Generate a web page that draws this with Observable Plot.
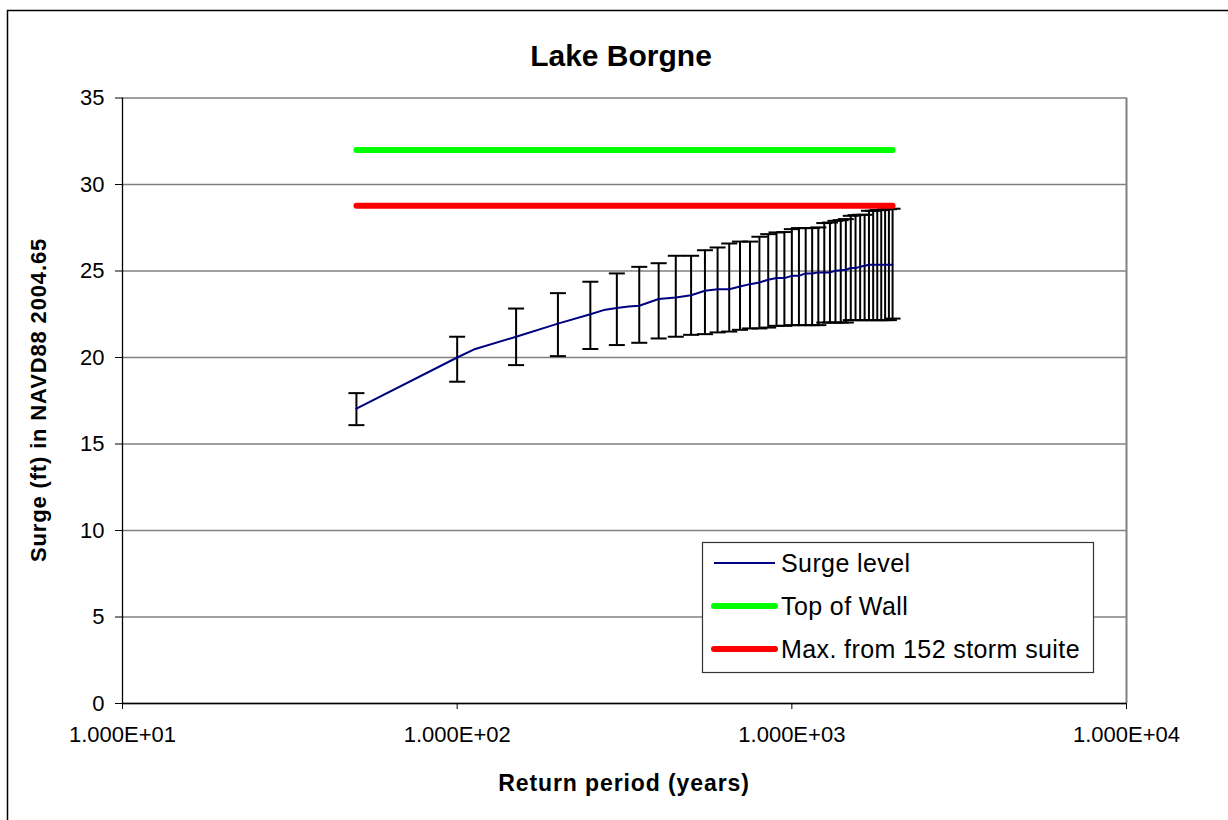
<!DOCTYPE html>
<html><head><meta charset="utf-8">
<script src="https://cdn.jsdelivr.net/npm/d3@7"></script>
<script src="https://cdn.jsdelivr.net/npm/@observablehq/plot@0.6"></script>
<style>body{margin:0;background:#fff} svg{display:block}</style>
</head><body><div id="chart"></div>
<script>
const title = "Lake Borgne";
const xLabel = "Return period (years)";
const yLabel = "Surge (ft) in NAVD88 2004.65";
const xTicks = [10, 100, 1000, 10000];
const xTickLabels = ["1.000E+01", "1.000E+02", "1.000E+03", "1.000E+04"];
const yTicks = [0, 5, 10, 15, 20, 25, 30, 35];

// Surge level line (return period, surge ft)
const lineYears = [50, 100, 112, 150, 200, 250, 274, 300, 325, 350, 400, 450, 500, 550, 600, 650, 700, 750, 800, 850, 900, 950, 1000, 1050, 1100, 1150, 1200, 1250, 1300, 1350, 1400, 1450, 1500, 1550, 1600, 1650, 1700, 1750, 1800, 1850, 1900, 1950, 2000];
const lineSurge = [17.05, 20.0, 20.46, 21.2, 21.96, 22.5, 22.74, 22.86, 22.95, 22.99, 23.38, 23.47, 23.6, 23.86, 23.95, 23.95, 24.1, 24.24, 24.34, 24.49, 24.59, 24.59, 24.72, 24.72, 24.86, 24.86, 24.92, 24.92, 24.92, 25.01, 25.05, 25.07, 25.17, 25.17, 25.24, 25.3, 25.36, 25.36, 25.36, 25.36, 25.36, 25.36, 25.36];

// Error bars
const barYears = [50, 100, 150, 200, 250, 300, 350, 400, 450, 500, 550, 600, 650, 700, 750, 800, 850, 900, 950, 1000, 1050, 1100, 1150, 1200, 1250, 1300, 1350, 1400, 1450, 1500, 1550, 1600, 1650, 1700, 1750, 1800, 1850, 1900, 1950, 2000];
const barLow = [16.09, 18.6, 19.56, 20.08, 20.49, 20.72, 20.85, 21.1, 21.2, 21.31, 21.35, 21.45, 21.5, 21.6, 21.68, 21.68, 21.73, 21.83, 21.83, 21.87, 21.87, 21.87, 21.87, 21.87, 22.02, 22.02, 22.02, 22.02, 22.02, 22.16, 22.16, 22.16, 22.16, 22.16, 22.16, 22.16, 22.16, 22.16, 22.16, 22.25];
const barHigh = [17.94, 21.2, 22.83, 23.72, 24.38, 24.86, 25.24, 25.45, 25.88, 25.88, 26.2, 26.36, 26.59, 26.7, 26.7, 26.98, 27.13, 27.23, 27.25, 27.42, 27.48, 27.48, 27.48, 27.52, 27.77, 27.8, 27.9, 27.94, 28.0, 28.19, 28.23, 28.25, 28.25, 28.48, 28.48, 28.52, 28.52, 28.57, 28.57, 28.6];

const wallYears = [50, 2000];
const wallLevel = [32, 32];
const maxYears = [50, 2000];
const maxLevel = [28.77, 28.77];

const legendLabels = ["Surge level", "Top of Wall", "Max. from 152 storm suite"];
const legendColors = ["#000080", "#00ff00", "#ff0000"];
const legendWidths = [2, 6, 6];

const lineData = lineYears.map((x, i) => ({x, y: lineSurge[i]}));
const bars = barYears.map((x, i) => ({x, lo: barLow[i], hi: barHigh[i]}));
const wall = wallYears.map((x, i) => ({x, y: wallLevel[i]}));
const maxS = maxYears.map((x, i) => ({x, y: maxLevel[i]}));

const capSymbol = {draw(ctx) { ctx.moveTo(-8, 0); ctx.lineTo(8, 0); }};
const FONT = "'Liberation Sans', Arial, sans-serif";

const chart = Plot.plot({
  width: 1228,
  height: 820,
  marginLeft: 122,
  marginRight: 102,
  marginTop: 97.5,
  marginBottom: 117,
  style: {fontFamily: FONT, fontSize: "22px", background: "#fff", color: "#000"},
  x: {type: "log", domain: [10, 10000]},
  y: {domain: [0, 35]},
  marks: [
    Plot.gridY(yTicks, {stroke: "#808080", strokeOpacity: 1, strokeWidth: 1.3}),
    Plot.ruleX([10000], {stroke: "#808080", strokeWidth: 2}),
    Plot.axisY(yTicks, {tickSize: 7, tickPadding: 11, label: null, stroke: "#000", fontSize: 22}),
    Plot.axisX(xTicks, {tickSize: 6, tickPadding: 17, label: null, stroke: "#000", fontSize: 22,
      tickFormat: d => xTickLabels[xTicks.indexOf(d)]}),
    Plot.ruleX([10], {stroke: "#000", strokeWidth: 1.3}),
    Plot.ruleY([0], {stroke: "#000", strokeWidth: 1.5}),
    Plot.ruleX(bars, {x: "x", y1: "lo", y2: "hi", stroke: "#000", strokeWidth: 2}),
    Plot.dot(bars, {x: "x", y: "lo", symbol: capSymbol, stroke: "#000", strokeWidth: 2, fill: "none", r: 1}),
    Plot.dot(bars, {x: "x", y: "hi", symbol: capSymbol, stroke: "#000", strokeWidth: 2, fill: "none", r: 1}),
    Plot.line(lineData, {x: "x", y: "y", stroke: legendColors[0], strokeWidth: 2}),
    Plot.line(wall, {x: "x", y: "y", stroke: legendColors[1], strokeWidth: 6, strokeLinecap: "round"}),
    Plot.line(maxS, {x: "x", y: "y", stroke: legendColors[2], strokeWidth: 6, strokeLinecap: "round"})
  ]
});

const svg = d3.select(chart);
// outer chart frame
svg.append("rect").attr("x", 7.5).attr("y", 10.5).attr("width", 1300).attr("height", 900)
  .attr("fill", "none").attr("stroke", "#000").attr("stroke-width", 1.5);
// title
svg.append("text").attr("x", 621).attr("y", 66).attr("text-anchor", "middle")
  .attr("font-family", FONT).attr("font-size", 30).attr("font-weight", "bold").text(title);
// x label
svg.append("text").attr("x", 624).attr("y", 791).attr("text-anchor", "middle")
  .attr("font-family", FONT).attr("font-size", 23).attr("font-weight", "bold")
  .attr("letter-spacing", 0.9).text(xLabel);
// y label
svg.append("text").attr("transform", "translate(46,400) rotate(-90)").attr("text-anchor", "middle")
  .attr("font-family", FONT).attr("font-size", 22).attr("font-weight", "bold")
  .attr("letter-spacing", 0.85).text(yLabel);
// legend
const lg = svg.append("g");
lg.append("rect").attr("x", 702.5).attr("y", 542.5).attr("width", 391).attr("height", 130)
  .attr("fill", "#fff").attr("stroke", "#333").attr("stroke-width", 1.2);
legendLabels.forEach((lab, i) => {
  const cy = 563 + i * 43;
  lg.append("line").attr("x1", 714).attr("x2", 775).attr("y1", cy).attr("y2", cy)
    .attr("stroke", legendColors[i]).attr("stroke-width", legendWidths[i])
    .attr("stroke-linecap", i === 0 ? "butt" : "round");
  lg.append("text").attr("x", 781).attr("y", cy).attr("dy", "0.35em").attr("text-anchor", "start")
    .attr("font-family", FONT).attr("font-size", 25).attr("letter-spacing", 0.4).text(lab);
});
document.getElementById("chart").appendChild(chart);
</script>
</body></html>
